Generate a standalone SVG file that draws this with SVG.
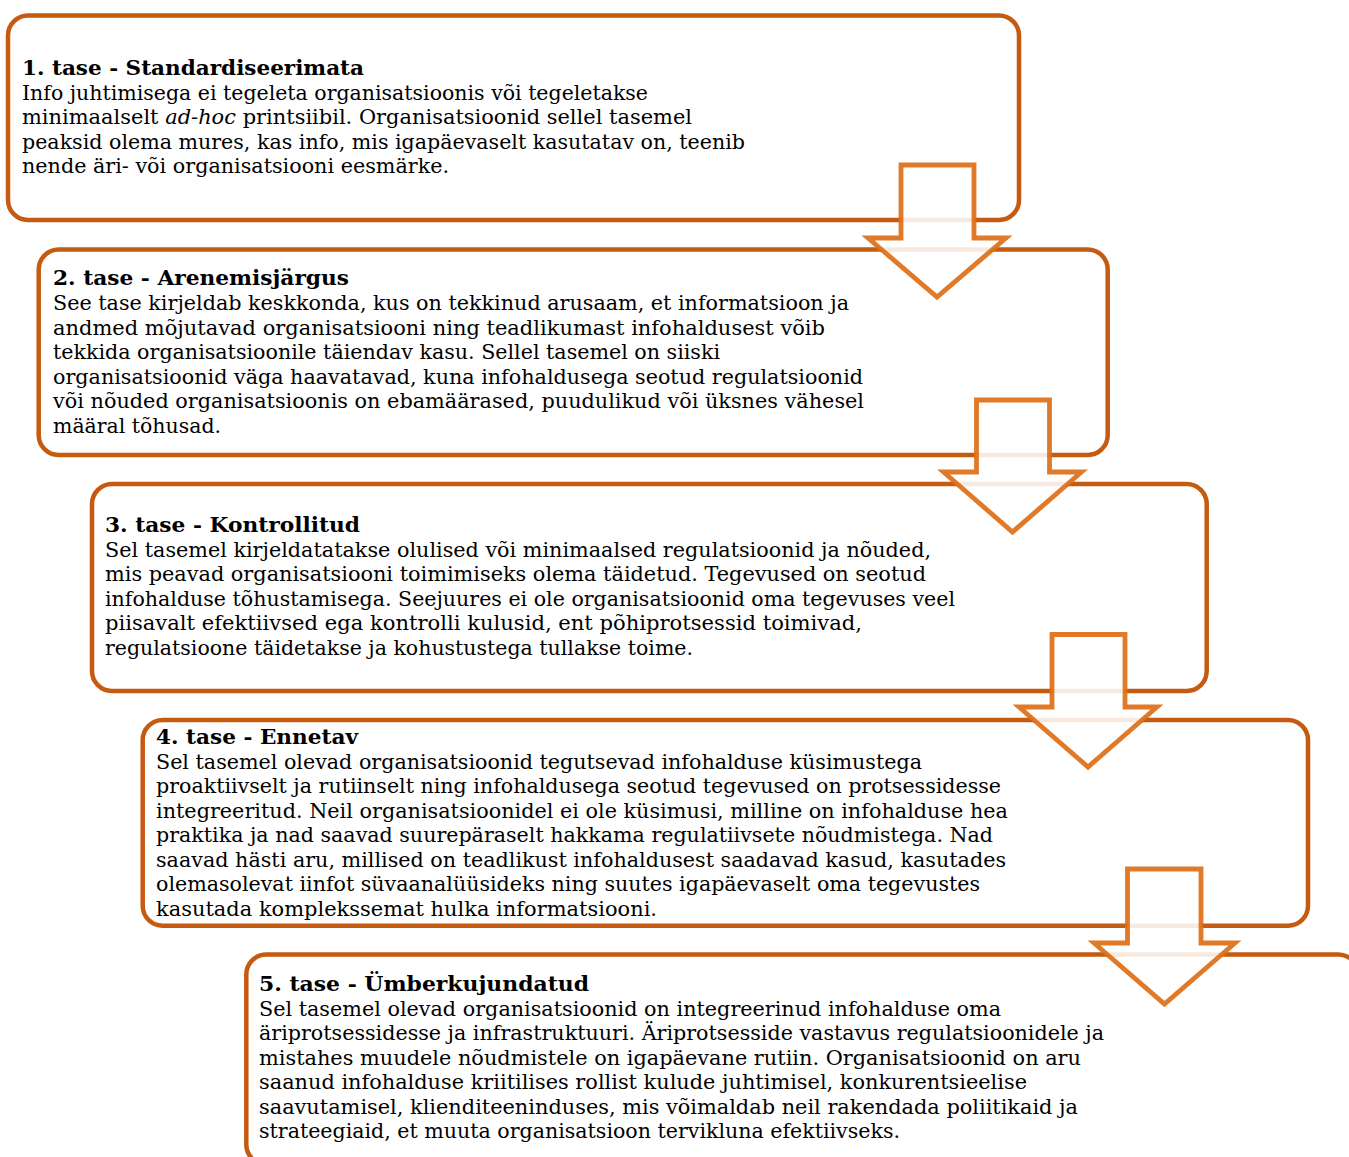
<svg xmlns="http://www.w3.org/2000/svg" width="1349" height="1157" viewBox="0 0 1349 1157">
<style>
.box{fill:#fff;stroke:#C55A11;stroke-width:4.5}
.arrow{fill:#fff;fill-opacity:0.87;stroke:#DE6F18;stroke-opacity:0.93;stroke-width:4.8;stroke-linejoin:miter}
text{font-family:"DejaVu Serif","Liberation Serif",serif;font-size:20.5px;fill:#000}
.t{font-weight:bold}
</style>
<rect width="1349" height="1157" fill="#fff"/>
<g id="level1">
<rect class="box" x="8" y="15.5" width="1011" height="204.5" rx="20"/>
<text class="t" x="22" y="75" textLength="342" lengthAdjust="spacingAndGlyphs">1. tase - Standardiseerimata</text>
<text x="22" y="99.5" textLength="626" lengthAdjust="spacingAndGlyphs">Info juhtimisega ei tegeleta organisatsioonis või tegeletakse</text>
<text x="22" y="124" textLength="670" lengthAdjust="spacingAndGlyphs">minimaalselt <tspan font-style="italic">ad-hoc</tspan> printsiibil. Organisatsioonid sellel tasemel</text>
<text x="22" y="148.5" textLength="723" lengthAdjust="spacingAndGlyphs">peaksid olema mures, kas info, mis igapäevaselt kasutatav on, teenib</text>
<text x="22" y="173" textLength="427" lengthAdjust="spacingAndGlyphs">nende äri- või organisatsiooni eesmärke.</text>
</g>
<g id="level2">
<rect class="box" x="38.7" y="249.5" width="1069" height="205.5" rx="20"/>
<text class="t" x="53" y="285" textLength="296" lengthAdjust="spacingAndGlyphs">2. tase - Arenemisjärgus</text>
<text x="53" y="310" textLength="796" lengthAdjust="spacingAndGlyphs">See tase kirjeldab keskkonda, kus on tekkinud arusaam, et informatsioon ja</text>
<text x="53" y="334.5" textLength="772" lengthAdjust="spacingAndGlyphs">andmed mõjutavad organisatsiooni ning teadlikumast infohaldusest võib</text>
<text x="53" y="359" textLength="667" lengthAdjust="spacingAndGlyphs">tekkida organisatsioonile täiendav kasu. Sellel tasemel on siiski</text>
<text x="53" y="383.5" textLength="810" lengthAdjust="spacingAndGlyphs">organisatsioonid väga haavatavad, kuna infohaldusega seotud regulatsioonid</text>
<text x="53" y="408" textLength="811" lengthAdjust="spacingAndGlyphs">või nõuded organisatsioonis on ebamäärased, puudulikud või üksnes vähesel</text>
<text x="53" y="432.5" textLength="168" lengthAdjust="spacingAndGlyphs">määral tõhusad.</text>
</g>
<g id="level3">
<rect class="box" x="92" y="484" width="1114.7" height="207" rx="20"/>
<text class="t" x="105" y="532" textLength="255" lengthAdjust="spacingAndGlyphs">3. tase - Kontrollitud</text>
<text x="105" y="556.5" textLength="826" lengthAdjust="spacingAndGlyphs">Sel tasemel kirjeldatatakse olulised või minimaalsed regulatsioonid ja nõuded,</text>
<text x="105" y="581" textLength="821" lengthAdjust="spacingAndGlyphs">mis peavad organisatsiooni toimimiseks olema täidetud. Tegevused on seotud</text>
<text x="105" y="605.5" textLength="850" lengthAdjust="spacingAndGlyphs">infohalduse tõhustamisega. Seejuures ei ole organisatsioonid oma tegevuses veel</text>
<text x="105" y="630" textLength="757" lengthAdjust="spacingAndGlyphs">piisavalt efektiivsed ega kontrolli kulusid, ent põhiprotsessid toimivad,</text>
<text x="105" y="654.5" textLength="588" lengthAdjust="spacingAndGlyphs">regulatsioone täidetakse ja kohustustega tullakse toime.</text>
</g>
<g id="level4">
<rect class="box" x="142.7" y="720" width="1165.3" height="205.8" rx="20"/>
<text class="t" x="156" y="744" textLength="202" lengthAdjust="spacingAndGlyphs">4. tase - Ennetav</text>
<text x="156" y="768.5" textLength="766" lengthAdjust="spacingAndGlyphs">Sel tasemel olevad organisatsioonid tegutsevad infohalduse küsimustega</text>
<text x="156" y="793" textLength="845" lengthAdjust="spacingAndGlyphs">proaktiivselt ja rutiinselt ning infohaldusega seotud tegevused on protsessidesse</text>
<text x="156" y="817.5" textLength="852" lengthAdjust="spacingAndGlyphs">integreeritud. Neil organisatsioonidel ei ole küsimusi, milline on infohalduse hea</text>
<text x="156" y="842" textLength="837" lengthAdjust="spacingAndGlyphs">praktika ja nad saavad suurepäraselt hakkama regulatiivsete nõudmistega. Nad</text>
<text x="156" y="866.5" textLength="850" lengthAdjust="spacingAndGlyphs">saavad hästi aru, millised on teadlikust infohaldusest saadavad kasud, kasutades</text>
<text x="156" y="891" textLength="824" lengthAdjust="spacingAndGlyphs">olemasolevat iinfot süvaanalüüsideks ning suutes igapäevaselt oma tegevustes</text>
<text x="156" y="915.5" textLength="501" lengthAdjust="spacingAndGlyphs">kasutada komplekssemat hulka informatsiooni.</text>
</g>
<g id="level5">
<rect class="box" x="246.3" y="954.5" width="1112" height="210" rx="20"/>
<text class="t" x="259" y="991" textLength="330" lengthAdjust="spacingAndGlyphs">5. tase - Ümberkujundatud</text>
<text x="259" y="1015.5" textLength="742" lengthAdjust="spacingAndGlyphs">Sel tasemel olevad organisatsioonid on integreerinud infohalduse oma</text>
<text x="259" y="1040" textLength="845" lengthAdjust="spacingAndGlyphs">äriprotsessidesse ja infrastruktuuri. Äriprotsesside vastavus regulatsioonidele ja</text>
<text x="259" y="1064.5" textLength="822" lengthAdjust="spacingAndGlyphs">mistahes muudele nõudmistele on igapäevane rutiin. Organisatsioonid on aru</text>
<text x="259" y="1089" textLength="768" lengthAdjust="spacingAndGlyphs">saanud infohalduse kriitilises rollist kulude juhtimisel, konkurentsieelise</text>
<text x="259" y="1113.5" textLength="819" lengthAdjust="spacingAndGlyphs">saavutamisel, klienditeeninduses, mis võimaldab neil rakendada poliitikaid ja</text>
<text x="259" y="1138" textLength="641" lengthAdjust="spacingAndGlyphs">strateegiaid, et muuta organisatsioon tervikluna efektiivseks.</text>
</g>
<g id="connectors">
<polygon class="arrow" points="901,165 974,165 974,238 1006,238 937,297 868,238 901,238"/>
<polygon class="arrow" points="976.5,400 1049.5,400 1049.5,472 1081.5,472 1012.5,532 943.5,472 976.5,472"/>
<polygon class="arrow" points="1052,634.5 1125,634.5 1125,707 1157,707 1088,767 1019,707 1052,707"/>
<polygon class="arrow" points="1127.5,869 1201,869 1201,943 1235,943 1164.5,1004 1094,943 1127.5,943"/>
</g>
</svg>
